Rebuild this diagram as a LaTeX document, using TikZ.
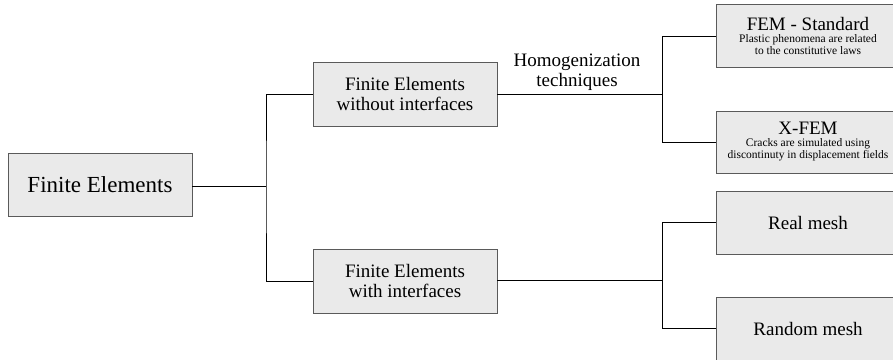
\documentclass[tikz,border=0pt]{standalone}
\usepackage{fontspec}
\setmainfont{Liberation Serif}
\newfontfamily\tnr{Liberation Serif}
\usetikzlibrary{shadows}
\definecolor{boxfill}{RGB}{234,234,234}
\definecolor{boxline}{RGB}{90,90,90}
\newcommand{\bigfnt}{\tnr\fontsize{23}{26}\selectfont}
\newcommand{\midfnt}{\tnr\fontsize{19}{20}\selectfont}
\newcommand{\smlfnt}{\tnr\fontsize{11.5}{12.5}\selectfont}
\tikzset{
  fbox/.style={draw=boxline, line width=0.7pt, fill=boxfill, minimum width=184pt, minimum height=63pt,
    inner sep=0pt, align=center, drop shadow={shadow xshift=0.9pt, shadow yshift=-0.9pt, opacity=1, fill=black!85}},
  conn/.style={draw=black, line width=0.9pt},
}
\begin{document}
\begin{tikzpicture}[x=1pt,y=-1pt]
\useasboundingbox (0,0) rectangle (893,359);
\clip (0,0) rectangle (893,359);
\node[fbox, font=\bigfnt] (fe) at (100,184.5) {Finite Elements};
\node[fbox, font=\midfnt, minimum height=64pt] (fwo) at (405,94) {Finite Elements\\without interfaces};
\node[fbox, font=\midfnt, minimum height=64pt] (fwi) at (405,281) {Finite Elements\\with interfaces};
\node[fbox, font=\smlfnt] (std) at (808,36) {{\midfnt FEM - Standard}\\[-1pt]Plastic phenomena are related\\to the constitutive laws};
\node[fbox, font=\smlfnt, minimum height=62pt] (xfem) at (808,142) {{\midfnt X-FEM}\\[-1pt]Cracks are simulated using\\discontinuty in displacement fields};
\node[fbox, font=\midfnt] (real) at (808,222.5) {Real mesh};
\node[fbox, font=\midfnt] (rand) at (808,328.5) {Random mesh};

\coordinate (j1) at (266,186);
\coordinate (j2) at (662,94);
\coordinate (j3) at (662,280);

\draw[conn] (fe.east |- j1) -- (j1);
\draw[conn] (fwo.west) -| (j1) |- (fwi.west);
\draw[conn] (fwo.east |- j2) -- (j2);
\draw[conn] (std.west) -| (j2) |- (xfem.west);
\draw[conn] (fwi.east |- j3) -- (j3);
\draw[conn] (real.west) -| (j3) |- (rand.west);

\node[font=\midfnt, align=center] (hom) at (577,72) {Homogenization\\techniques};
\end{tikzpicture}
\end{document}
